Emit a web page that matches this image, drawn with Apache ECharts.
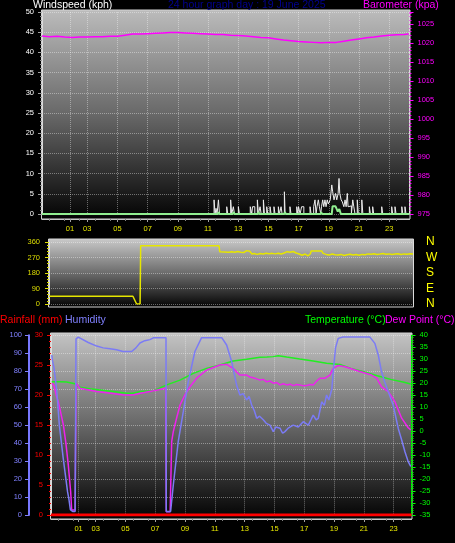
<!DOCTYPE html>
<html>
<head>
<meta charset="utf-8">
<title>24 hour graph</title>
<style>
    html, body { margin: 0; padding: 0; background: #000; }
    #chart { width: 455px; height: 543px; }
</style>
<script src="https://cdn.jsdelivr.net/npm/echarts@6/dist/echarts.min.js"></script>
</head>
<body>
<div id="chart"></div>
<script>
const TICK_HOURS = [1.85, 3, 5, 7, 9, 11, 13, 15, 17, 19, 21, 23];
const TICK_LABELS = ["01", "03", "05", "07", "09", "11", "13", "15", "17", "19", "21", "23"];
const DIR_TICK_LABELS = ["N", "E", "S", "W", "N"];

const BARO_HOURS = [0, 0.5, 1, 1.5, 2, 2.5, 3, 3.5, 4, 4.5, 5, 5.5, 6, 6.5, 7, 7.5, 8, 8.5, 9, 9.5, 10, 10.5, 11, 11.5, 12, 12.5, 13, 13.5, 14, 14.5, 15, 15.5, 16, 16.5, 17, 17.5, 18, 18.5, 19, 19.5, 20, 20.5, 21, 21.5, 22, 22.5, 23, 23.5, 24, 24.3];
const BARO_KPA = [1021.9, 1021.7, 1021.8, 1021.6, 1021.5, 1021.6, 1021.6, 1021.7, 1021.7, 1021.8, 1021.8, 1022.1, 1022.4, 1022.4, 1022.5, 1022.6, 1022.7, 1022.8, 1022.8, 1022.7, 1022.6, 1022.5, 1022.4, 1022.3, 1022.3, 1022.1, 1022.0, 1021.9, 1021.7, 1021.5, 1021.4, 1021.1, 1020.8, 1020.6, 1020.4, 1020.3, 1020.2, 1020.1, 1020.2, 1020.2, 1020.5, 1020.8, 1021.1, 1021.4, 1021.6, 1021.9, 1022.1, 1022.2, 1022.3, 1022.4];

const GUST_HOURS = [0, 11.4, 11.47, 11.53, 11.6, 11.69, 11.76, 12.24, 12.31, 12.5, 12.57, 12.68, 12.75, 13.01, 13.08, 13.8, 13.9, 13.95, 14.1, 14.27, 14.34, 14.45, 14.52, 14.67, 14.74, 14.89, 14.96, 15.11, 15.18, 15.37, 15.44, 15.66, 15.73, 15.84, 15.91, 16.06, 16.11, 16.43, 16.5, 16.88, 16.95, 17.0, 17.1, 17.2, 17.35, 17.76, 17.83, 18.0, 18.09, 18.16, 18.22, 18.31, 18.38, 18.47, 18.52, 18.6, 18.67, 18.75, 18.82, 18.9, 18.97, 19.1, 19.2, 19.26, 19.35, 19.45, 19.53, 19.62, 19.68, 19.73, 19.82, 19.9, 20.0, 20.08, 20.15, 20.23, 20.28, 20.41, 20.5, 20.59, 20.66, 20.74, 20.89, 20.96, 21.19, 21.26, 21.69, 21.76, 21.91, 21.98, 22.51, 22.58, 23.17, 23.24, 23.39, 23.46, 23.84, 23.91, 24.05, 24.12, 24.35];
const GUST_KPH = [0, 3.5, 0, 1.4, 0, 3.5, 0, 1.8, 0, 3.5, 0, 1.8, 0, 1.8, 0, 1.8, 0, 1.8, 0, 3.5, 0, 1.8, 0, 3.5, 0, 1.8, 0, 1.8, 0, 1.8, 0, 1.8, 0, 1.8, 0, 5.5, 0, 1.8, 0, 1.8, 0, 1.8, 0, 1.8, 0, 1.8, 0, 1.8, 3.5, 0, 1.8, 3.5, 1.8, 0, 1.8, 3.5, 1.8, 3.5, 1.8, 3.5, 2.5, 3.5, 7.2, 5.5, 3.5, 5.1, 3.5, 5.1, 8.8, 5.1, 3.5, 3, 1.8, 3.5, 1.8, 5.1, 1.8, 2, 0, 3.5, 1.8, 0, 3.5, 0, 3.5, 0, 1.8, 0, 1.8, 0, 1.8, 0, 1.8, 0, 1.8, 0, 1.8, 0, 1.8, 0, 0];

const WIND_HOURS = [0, 11.65, 11.7, 11.75, 12.65, 12.7, 12.75, 14.3, 14.35, 14.4, 16.05, 16.1, 16.15, 18.45, 18.5, 18.55, 19.2, 19.25, 19.45, 19.6, 19.7, 19.8, 24.35];
const WIND_KPH = [0, 0, 0.5, 0, 0, 0.5, 0, 0, 0.5, 0, 0, 0.5, 0, 0, 0.5, 0, 0, 1.9, 1.9, 0.6, 1.2, 0, 0];

const DIR_HOURS = [0, 5.6, 5.85, 6.08, 6.12, 11.35, 11.4, 11.7, 12.0, 12.2, 12.4, 12.6, 12.8, 13.0, 13.2, 13.3, 13.4, 13.55, 13.7, 13.9, 14.1, 14.3, 14.5, 14.7, 14.9, 15.1, 15.3, 15.5, 15.7, 15.9, 16.1, 16.3, 16.5, 16.7, 16.9, 17.1, 17.3, 17.45, 17.5, 18.2, 18.3, 18.5, 18.7, 18.9, 19.1, 19.3, 19.5, 19.7, 19.9, 20.1, 20.3, 20.5, 20.7, 20.9, 21.1, 21.3, 21.5, 21.7, 21.9, 22.1, 22.3, 22.5, 22.7, 22.9, 23.1, 23.3, 23.5, 23.7, 23.9, 24.1, 24.3];
const DIR_DEG = [45, 45, 0, 0, 338, 338, 304, 302, 300, 303, 300, 305, 301, 299, 310, 317, 306, 290, 293, 288, 293, 290, 295, 292, 294, 291, 295, 290, 296, 304, 300, 305, 296, 290, 283, 290, 280, 292, 308, 308, 294, 288, 284, 290, 286, 284, 288, 282, 286, 289, 284, 287, 283, 288, 286, 291, 289, 292, 288, 290, 293, 289, 291, 287, 290, 292, 288, 291, 289, 292, 290];

const RAIN_HOURS = [0, 24.2];
const RAIN_MM = [0, 0];
const SUN_HOURS = [6.91, 18.93];

const HUM_HOURS = [0.05, 0.1, 0.2, 0.38, 0.56, 0.83, 1.11, 1.2, 1.3, 1.45, 1.62, 1.68, 1.83, 2.5, 3.07, 3.5, 3.96, 4.4, 4.83, 5.42, 5.7, 5.97, 6.3, 6.64, 6.9, 7.3, 7.72, 7.74, 8.03, 8.21, 8.54, 8.88, 9.21, 9.66, 10.11, 10.6, 11.0, 11.46, 11.79, 12.13, 12.46, 12.68, 12.9, 13.13, 13.3, 13.47, 13.65, 13.81, 14.0, 14.25, 14.45, 14.7, 14.92, 15.1, 15.37, 15.55, 15.7, 15.95, 16.26, 16.6, 16.93, 17.27, 17.45, 17.6, 17.8, 17.94, 18.05, 18.17, 18.35, 18.5, 18.65, 18.72, 18.85, 18.95, 19.1, 19.28, 19.6, 20.2, 20.8, 21.41, 21.74, 21.97, 22.19, 22.4, 22.64, 22.97, 23.31, 23.54, 23.76, 23.98, 24.15];
const HUM_PCT = [89, 86, 82, 70, 50, 31, 13, 9, 3, 2, 2, 98, 99, 96, 94, 93, 92.5, 92, 91, 91, 93, 95.7, 97, 97.6, 98.7, 98.7, 98.7, 2, 2, 16.7, 40.8, 57.5, 74, 91, 98.7, 98.7, 98.7, 98.7, 94.6, 85.3, 72.3, 66.8, 67.5, 64, 66, 61.2, 58, 53.8, 55, 53, 51, 50, 46.4, 49, 48.3, 45.5, 46.4, 48.5, 50, 49, 51.9, 50, 53, 55.6, 53, 53.8, 58, 63, 61, 66.8, 64, 63, 70, 80, 93, 98.3, 99, 99, 99, 99, 95.5, 89, 79.7, 74, 68.6, 61.2, 48.2, 41.7, 35.2, 29.7, 27];

const TEMP_HOURS = [0.05, 0.6, 1.05, 1.6, 1.94, 2.6, 3.29, 4.2, 5.08, 5.5, 6.0, 6.9, 7.77, 8.66, 9.55, 10.45, 11.34, 12.23, 13.13, 14.03, 14.5, 14.92, 15.26, 15.82, 16.7, 17.6, 18.5, 19.4, 20.13, 21.0, 21.9, 22.8, 23.7, 24.15];
const TEMP_C = [20.6, 20.6, 20.5, 19.8, 18.3, 17.7, 17.2, 16.5, 15.8, 15.8, 16.5, 16.9, 19.3, 21.3, 24.1, 26.2, 27.6, 29.3, 30, 30.8, 30.9, 31.1, 31.5, 30.9, 30.1, 29.3, 28.3, 27.8, 26.2, 24.8, 23.1, 21.6, 20.4, 19.7];

const DEW_HOURS = [0.05, 0.2, 0.35, 0.49, 0.66, 0.83, 1.0, 1.16, 1.32, 1.39, 1.62, 1.68, 1.94, 3.06, 4.0, 4.85, 5.5, 6.0, 6.9, 7.7, 7.74, 8.0, 8.1, 8.21, 8.43, 8.66, 8.99, 9.33, 9.78, 10.45, 11.34, 11.79, 12.23, 12.5, 12.68, 13.13, 13.35, 13.57, 13.8, 14.03, 14.25, 14.47, 14.7, 14.92, 15.15, 15.37, 15.6, 15.82, 16.05, 16.26, 16.5, 16.7, 16.95, 17.15, 17.4, 17.6, 17.85, 18.05, 18.4, 18.72, 18.95, 19.28, 19.74, 20.63, 21.52, 21.86, 22.19, 22.64, 23.09, 23.54, 23.98, 24.15];
const DEW_C = [20, 19, 15, 12.3, 7.5, 2.6, -5, -14.1, -25.3, -32.9, -32.9, 20, 17.9, 16.5, 15.8, 15.1, 15.1, 15.8, 16.9, 17.9, -33.6, -33.6, -4.4, -0.2, 5.4, 10.9, 15.1, 18.5, 22.1, 25.5, 27.6, 27.9, 26.2, 24.5, 23.4, 23.4, 22.6, 22.3, 21.8, 21.3, 21.6, 20.6, 20.9, 20, 20.3, 19.3, 19.8, 19.3, 19.6, 19, 19.5, 19.3, 18.9, 19, 19.5, 19.3, 21, 22.1, 22.1, 23.4, 26.2, 27.4, 26.9, 25.1, 23.4, 22.1, 18.5, 16.5, 12.3, 5.4, 1.4, 0.5];

const FONT = "'Liberation Sans', Arial, sans-serif";

function pairs(xs, ys) {
    return xs.map((x, i) => [x, ys[i]]);
}

function tickLabel(value) {
    const i = TICK_HOURS.findIndex(h => Math.abs(h - value) < 0.01);
    return i >= 0 ? TICK_LABELS[i] : "";
}

const gridLine = {
    show: true,
    lineStyle: { color: "rgba(255,255,255,0.38)", type: "dotted", width: 1 }
};

function panelBackground(x, y, width, height, top, middle) {
    return {
        type: "rect",
        z: -10,
        silent: true,
        shape: { x: x, y: y, width: width, height: height },
        style: {
            fill: {
                type: "linear", x: 0, y: 0, x2: 0, y2: 1,
                colorStops: [
                    { offset: 0, color: top },
                    { offset: 0.5, color: middle },
                    { offset: 1, color: "#020202" }
                ]
            },
            stroke: "#d4d4d4",
            lineWidth: 1
        }
    };
}

function hourAxis(gridIndex, max, offset) {
    return {
        gridIndex: gridIndex,
        type: "value",
        min: 0,
        max: max,
        interval: 1,
        offset: offset,
        axisLine: { show: true, onZero: false, lineStyle: { color: "#c8c8c8" } },
        axisTick: { show: true, customValues: TICK_HOURS, length: 3, lineStyle: { color: "#a0a0a0" } },
        minorTick: { show: true, splitNumber: 2, length: 2, lineStyle: { color: "#808080" } },
        axisLabel: {
            customValues: TICK_HOURS,
            formatter: tickLabel,
            color: "#e6e600",
            fontSize: 7.5,
            fontFamily: FONT,
            margin: 6
        },
        splitLine: gridLine
    };
}

function valueAxis(gridIndex, position, min, max, interval, color, extra) {
    return Object.assign({
        gridIndex: gridIndex,
        type: "value",
        position: position,
        min: min,
        max: max,
        interval: interval,
        axisLine: { show: true, onZero: false, lineStyle: { color: "#dcdcdc" } },
        axisTick: { show: true, length: 4, lineStyle: { color: color } },
        minorTick: { show: true, splitNumber: 5, length: 2, lineStyle: { color: color } },
        axisLabel: { color: color, fontSize: 7.5, fontFamily: FONT, margin: 8 },
        splitLine: { show: false }
    }, extra);
}

function titleText(text, left, top, color) {
    return {
        text: text,
        left: left,
        top: top,
        padding: 0,
        textStyle: { color: color, fontSize: 10.5, fontWeight: "normal", fontFamily: FONT }
    };
}

function lineSeries(name, xAxisIndex, yAxisIndex, data, color, width, extra) {
    return Object.assign({
        name: name,
        type: "line",
        xAxisIndex: xAxisIndex,
        yAxisIndex: yAxisIndex,
        data: data,
        symbol: "none",
        lineStyle: { color: color, width: width }
    }, extra);
}

const chart = echarts.init(document.getElementById("chart"));

chart.setOption({
    backgroundColor: "#000000",
    animation: false,
    title: [
        titleText("Windspeed (kph)", 33, 0, "#ffffff"),
        titleText("24 hour graph day : 19 June 2025", 168, 0, "#000090"),
        titleText("Barometer (kpa)", 363, 0, "#ff00ff"),
        titleText("Rainfall (mm)", 0, 315, "#ff0000"),
        titleText("Humidity", 65, 315, "#8080ff"),
        titleText("Temperature (°C)", 305, 315, "#00ff00"),
        titleText("Dew Point (°C)", 385, 315, "#ff00ff")
    ],
    graphic: [
        panelBackground(41.5, 10, 368.5, 209, "#bcbcbc", "#686868"),
        panelBackground(48.5, 239, 365, 68, "#cacaca", "#6c6c6c"),
        panelBackground(50.5, 333, 361.5, 186, "#c4c4c4", "#666666")
    ],
    grid: [
        { left: 42, right: 45.5, top: 12, height: 202 },
        { left: 49, right: 42, top: 242, height: 62 },
        { left: 51, right: 43.5, top: 335.3, height: 179.7 }
    ],
    xAxis: [
        hourAxis(0, 24.35, 5),
        { gridIndex: 1, type: "value", min: 0, max: 24.3, show: false },
        hourAxis(2, 24.2, 4)
    ],
    yAxis: [
        valueAxis(0, "left", 0, 50, 5, "#ffffff", {
            axisTick: { show: true, length: 4, lineStyle: { color: "#a0a0a0" } },
            minorTick: { show: true, splitNumber: 5, length: 2, lineStyle: { color: "#909090" } },
            splitLine: gridLine
        }),
        valueAxis(0, "right", 975, 1028.2, 5, "#ff00ff", {
            axisLabel: {
                color: "#ff00ff",
                fontSize: 7.5,
                fontFamily: FONT,
                margin: 8,
                showMaxLabel: false,
                formatter: value => String(value)
            }
        }),
        valueAxis(1, "left", 0, 360, 90, "#dcdc00", {
            axisLabel: { color: "#dcdc00", fontSize: 7.5, fontFamily: FONT, margin: 9 },
            splitLine: gridLine
        }),
        valueAxis(1, "right", 0, 360, 90, "#ffff00", {
            axisTick: { show: false },
            minorTick: { show: false },
            axisLabel: {
                color: "#ffff00",
                fontSize: 12,
                fontFamily: FONT,
                margin: 13,
                formatter: value => DIR_TICK_LABELS[Math.round(value / 90)]
            }
        }),
        valueAxis(2, "left", 0, 100, 10, "#8080ff", {
            offset: 22,
            axisLine: { show: true, onZero: false, lineStyle: { color: "#7878ff", width: 2 } },
            minorTick: { show: false },
            axisLabel: { color: "#8080ff", fontSize: 7.5, fontFamily: FONT, margin: 7 },
            splitLine: gridLine
        }),
        valueAxis(2, "left", 0, 30, 5, "#ff0000", {}),
        valueAxis(2, "right", -35, 40, 5, "#00ff00", {
            axisLine: { show: true, onZero: false, lineStyle: { color: "#00e000" } }
        })
    ],
    series: [
        lineSeries("Barometer", 0, 1, pairs(BARO_HOURS, BARO_KPA), "#ff00ff", 1.5),
        lineSeries("Gust", 0, 0, pairs(GUST_HOURS, GUST_KPH), "#eeeeee", 1, { step: "end" }),
        lineSeries("Wind speed", 0, 0, pairs(WIND_HOURS, WIND_KPH), "#90ee90", 2, { z: 4 }),
        lineSeries("Wind direction", 1, 2, pairs(DIR_HOURS, DIR_DEG), "#e6e600", 1.5),
        lineSeries("Rainfall", 2, 5, pairs(RAIN_HOURS, RAIN_MM), "#ff0000", 3, {
            z: 5,
            markLine: {
                silent: true,
                symbol: "none",
                label: { show: false },
                lineStyle: { color: "#ffff00", type: "dotted", width: 1.5 },
                data: SUN_HOURS.map(h => [{ coord: [h, -0.6] }, { coord: [h, 2.5] }])
            }
        }),
        lineSeries("Temperature", 2, 6, pairs(TEMP_HOURS, TEMP_C), "#22ee22", 1.5),
        lineSeries("Dew Point", 2, 6, pairs(DEW_HOURS, DEW_C), "#ee22ee", 1.5),
        lineSeries("Humidity", 2, 4, pairs(HUM_HOURS, HUM_PCT), "#7b7bf5", 1.5)
    ]
});
</script>
</body>
</html>
